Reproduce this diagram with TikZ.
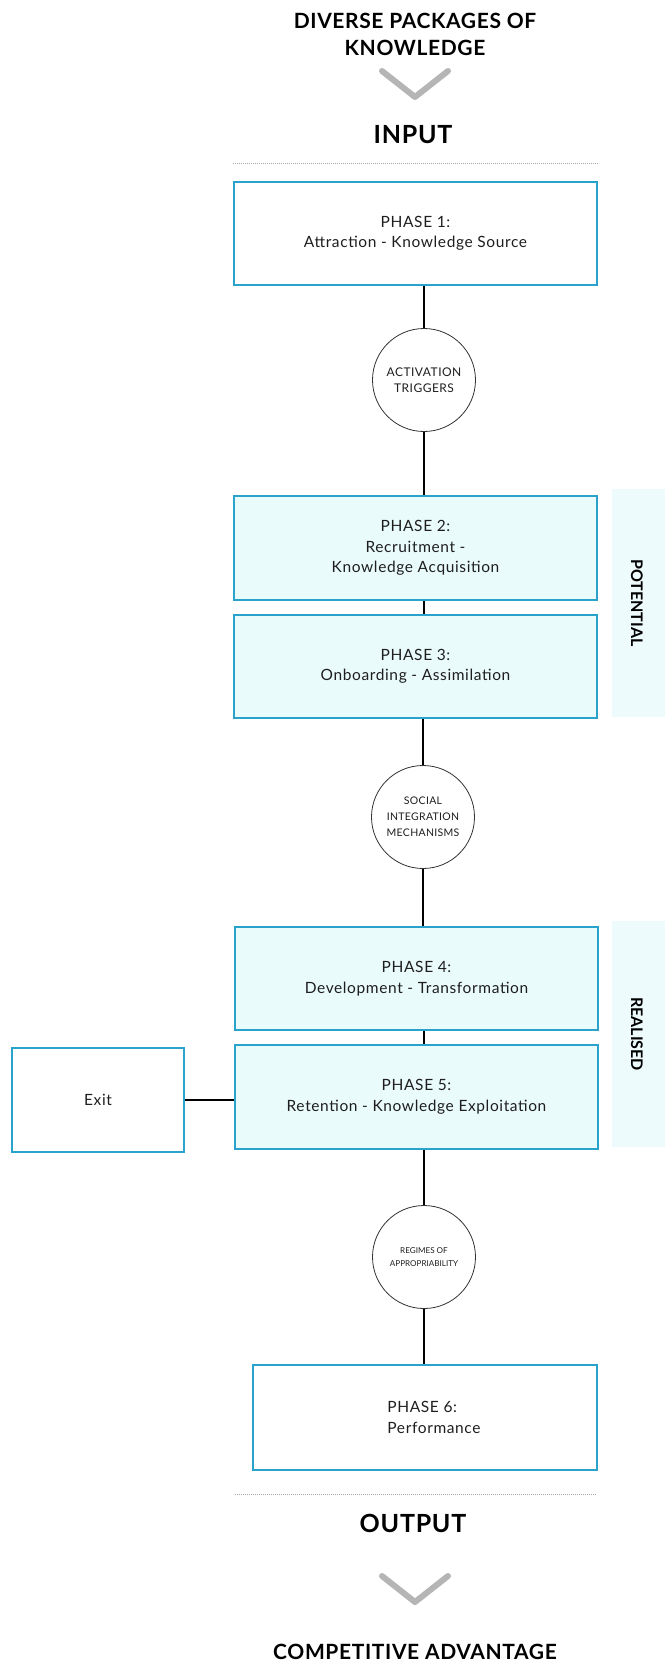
\documentclass[tikz,border=0pt]{standalone}
\usepackage{fontspec}
\setmainfont{Lato}
\newfontfamily\wideLato[LetterSpace=4]{Lato}
\newfontfamily\headLato[LetterSpace=3]{Lato}
\definecolor{boxblue}{HTML}{2AA3CC}
\definecolor{boxfill}{HTML}{EAFBFC}
\definecolor{bandfill}{HTML}{EDFBFC}
\definecolor{chev}{HTML}{B5B5B5}
\definecolor{txt}{HTML}{1E1E1E}
\tikzset{
  phasebox/.style={draw=boxblue, line width=2.2pt, minimum width=363pt, minimum height=103pt,
    align=center, text=txt, font=\wideLato\fontsize{15.5}{20.5}\selectfont, inner sep=0pt},
  filled/.style={fill=boxfill},
  circ/.style={circle, draw=black!80, line width=0.8pt, minimum size=103pt, align=center,
    text=txt, inner sep=0pt, fill=white},
  conn/.style={line width=2.2pt, black},
  head/.style={font=\headLato\bfseries\fontsize{21}{27}\selectfont, align=center, text=black},
  bighead/.style={font=\headLato\bfseries\fontsize{25}{30}\selectfont, text=black},
  band/.style={fill=bandfill, draw=none},
  bandlabel/.style={font=\bfseries\fontsize{16}{18}\selectfont, rotate=-90, text=black},
  chevron/.style={chev, line width=6pt, line cap=round, line join=round},
  dotline/.style={gray!70, line width=0.8pt, dash pattern=on 0.8pt off 1.2pt}
}
\begin{document}
\begin{tikzpicture}[x=1pt,y=-1pt]
\useasboundingbox (0,0) rectangle (665,1662);
% bands
\fill[band] (612,489) rectangle (665,717);
\fill[band] (612,921) rectangle (665,1147);
\node[bandlabel] (pot) at (637,603) {POTENTIAL};
\node[bandlabel] (real) at (637,1034) {REALISED};
% header
\node[head] (diverse) at (415,34) {DIVERSE PACKAGES OF\\KNOWLEDGE};
\draw[chevron] (382,71) -- (415,97) -- (448,71);
\node[bighead] (input) at (413,135) {INPUT};
\draw[dotline] (233,163) -- (599,163);
% phases
\node[phasebox] (p1) at (415.5,233.5) {PHASE 1:\\Attraction - Knowledge Source};
\node[circ, font=\wideLato\fontsize{12}{16}\selectfont] (c1) at (424,380) {ACTIVATION\\TRIGGERS};
\node[phasebox, filled, minimum height=104pt] (p2) at (415.5,548) {PHASE 2:\\Recruitment -\\Knowledge Acquisition};
\node[phasebox, filled] (p3) at (415.5,666.5) {PHASE 3:\\Onboarding - Assimilation};
\node[circ, font=\headLato\fontsize{10.5}{16}\selectfont] (c2) at (423,817) {SOCIAL\\INTEGRATION\\MECHANISMS};
\node[phasebox, filled] (p4) at (416.5,978.5) {PHASE 4:\\Development - Transformation};
\node[phasebox, filled, minimum height=104pt] (p5) at (416.5,1097) {PHASE 5:\\Retention - Knowledge Exploitation};
\node[phasebox, minimum width=172pt, minimum height=104pt] (exit) at (98,1100) {Exit};
\node[circ, font=\fontsize{8.1}{13}\selectfont] (c3) at (424,1257) {REGIMES OF\\APPROPRIABILITY};
\node[phasebox, minimum width=344pt, minimum height=105pt, align=left] (p6) at (425,1417.5) {\hspace*{18pt}PHASE 6:\\\hspace*{18pt}Performance};
% connectors
\draw[conn] (c1.north) -- (c1.north |- p1.south);
\draw[conn] (c1.south) -- (c1.south |- p2.north);
\draw[conn] (c1.south |- p2.south) -- (c1.south |- p3.north);
\draw[conn] (c2.north) -- (c2.north |- p3.south);
\draw[conn] (c2.south) -- (c2.south |- p4.north);
\draw[conn] (c3.north |- p4.south) -- (c3.north |- p5.north);
\draw[conn] (c3.north) -- (c3.north |- p5.south);
\draw[conn] (c3.south) -- (c3.south |- p6.north);
\draw[conn] (exit.east) -- (exit.east -| p5.west);
% footer
\draw[dotline] (235,1494) -- (596,1494);
\node[bighead] (output) at (413,1523) {OUTPUT};
\draw[chevron] (382,1576) -- (415,1602) -- (448,1576);
\node[head] (comp) at (415,1652) {COMPETITIVE ADVANTAGE};
\end{tikzpicture}
\end{document}
